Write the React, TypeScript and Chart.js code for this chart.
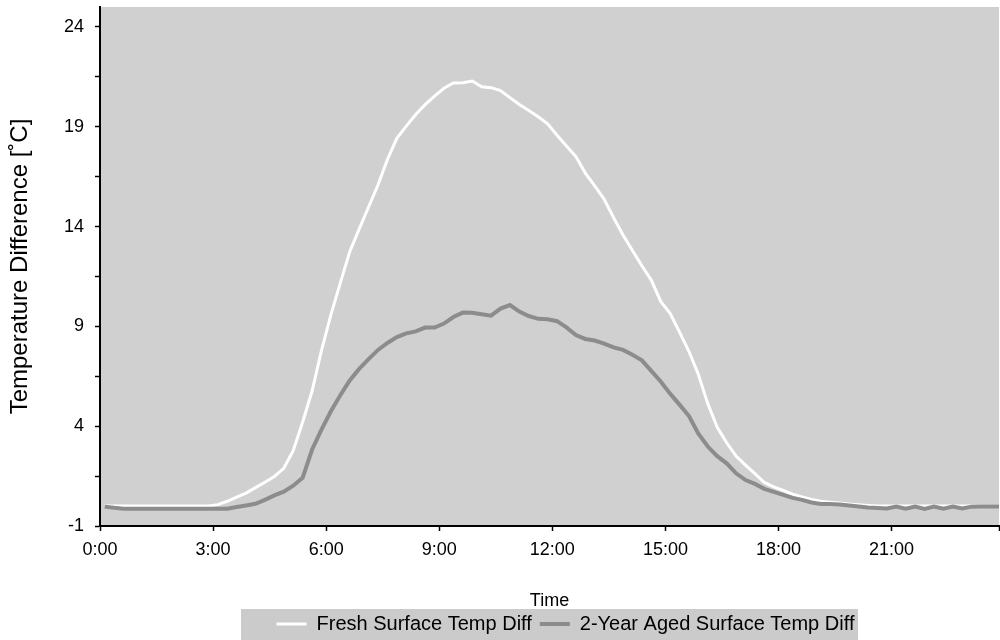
import { useEffect, useRef } from 'react';
import { Chart, registerables } from 'chart.js';

Chart.register(...registerables);

const seriesLabels = ['Fresh Surface Temp Diff', '2-Year Aged Surface Temp Diff'];

// Temperature difference samples (°C), one every 15 minutes, starting at 0:07:30
const freshDiff = [
  0, 0, 0, 0, 0, 0, 0, 0, 0, 0, 0, 0,
  0.07, 0.24, 0.45, 0.65, 0.92, 1.19, 1.48, 1.89, 2.77, 4.2,
  5.75, 7.79, 9.58, 11.18, 12.74, 13.87, 14.98, 16.08, 17.36, 18.42,
  19.03, 19.61, 20.11, 20.54, 20.93, 21.19, 21.21, 21.29, 21.0, 20.96,
  20.81, 20.46, 20.12, 19.82, 19.5, 19.15, 18.58, 18.04, 17.51, 16.68,
  16.04, 15.37, 14.45, 13.58, 12.8, 12.04, 11.32, 10.25, 9.65, 8.71,
  7.74, 6.59, 5.12, 3.94, 3.17, 2.5, 2.05, 1.62, 1.18, 0.96,
  0.78, 0.59, 0.46, 0.33, 0.24, 0.19, 0.15, 0.1, 0.07, 0.03,
  0, 0, 0, 0, 0, 0, 0, 0, 0, 0, 0, 0, 0, 0,
];

const agedDiff = [
  -0.03, -0.09, -0.13, -0.13, -0.13, -0.13, -0.13, -0.13, -0.13, -0.13, -0.13, -0.13, -0.13, -0.13,
  -0.05, 0.03, 0.11, 0.31, 0.53, 0.72, 1.02, 1.41,
  2.82, 3.83, 4.75, 5.55, 6.29, 6.87, 7.36, 7.82, 8.17, 8.46,
  8.65, 8.75, 8.94, 8.94, 9.14, 9.47, 9.69, 9.68, 9.61, 9.54,
  9.89, 10.07, 9.74, 9.52, 9.38, 9.36, 9.26, 8.95, 8.57, 8.37,
  8.29, 8.14, 7.95, 7.82, 7.58, 7.3, 6.77, 6.24, 5.63, 5.08,
  4.51, 3.62, 2.98, 2.5, 2.14, 1.64, 1.3, 1.11, 0.86, 0.71,
  0.56, 0.41, 0.31, 0.18, 0.1, 0.1, 0.08, 0.03, -0.02, -0.07,
  -0.1, -0.12, -0.02, -0.13, -0.03, -0.14, -0.03, -0.13, -0.03, -0.12,
  -0.03, -0.02, -0.02, -0.02,
];

const sampleStartH = 0.125;
const sampleStepH = 0.25;
const timesH = freshDiff.map((_, i) => sampleStartH + i * sampleStepH);

const xTickValues = [0, 3, 6, 9, 12, 15, 18, 21];
const xAxisEnd = 23.85;
const yTickValues = [-1, 1.5, 4, 6.5, 9, 11.5, 14, 16.5, 19, 21.5, 24];
const yLabelValues = [-1, 4, 9, 14, 19, 24];
const yMin = -1;
const yMax = 25;

const FONT = '"Liberation Sans", Arial, Helvetica, sans-serif';
const LEGEND_SHIFT_X = 16;

const backgroundPlugin = {
  id: 'plotBackground',
  afterLayout(chart: any) {
    const lg = chart.legend;
    if (lg) {
      lg.left += LEGEND_SHIFT_X;
      lg.right += LEGEND_SHIFT_X;
    }
  },
  beforeDraw(chart: any) {
    const { ctx, chartArea: a } = chart;
    ctx.save();
    ctx.fillStyle = '#d0d0d0';
    ctx.fillRect(a.left, a.top, a.right - a.left, a.bottom - a.top);
    const cx = (a.left + a.right) / 2;
    const w = 617;
    ctx.fillStyle = '#cbcbcb';
    ctx.fillRect(cx - w / 2, chart.height - 31, w, 31);
    ctx.restore();
  },
};

export default function App() {
  const canvasRef = useRef<HTMLCanvasElement | null>(null);

  useEffect(() => {
    const canvas = canvasRef.current;
    if (!canvas) return;
    const chart = new Chart(canvas, {
      type: 'line',
      data: {
        datasets: [
          {
            label: seriesLabels[0],
            data: timesH.map((t, i) => ({ x: t, y: freshDiff[i] })),
            borderColor: '#ffffff',
            backgroundColor: '#ffffff',
            borderWidth: 3,
            pointRadius: 0,
            tension: 0,
            order: 1,
          },
          {
            label: seriesLabels[1],
            data: timesH.map((t, i) => ({ x: t, y: agedDiff[i] })),
            borderColor: '#8c8c8c',
            backgroundColor: '#8c8c8c',
            borderWidth: 4,
            pointRadius: 0,
            tension: 0,
            order: 0,
          },
        ],
      },
      options: {
        animation: false,
        responsive: false,
        devicePixelRatio: 1,
        layout: { padding: { top: 7, right: 1, left: 0, bottom: -4 } },
        plugins: {
          tooltip: { enabled: false },
          legend: {
            position: 'bottom',
            fullSize: false,
            labels: {
              usePointStyle: true,
              pointStyle: 'line',
              pointStyleWidth: 30,
              color: '#000',
              font: { family: FONT, size: 20 },
              padding: 8,
              sort: (a: any, b: any) => a.datasetIndex - b.datasetIndex,
            },
          },
        },
        scales: {
          x: {
            type: 'linear',
            min: 0,
            max: xAxisEnd,
            afterBuildTicks: (s: any) => {
              s.ticks = [...xTickValues, xAxisEnd].map((v) => ({ value: v }));
            },
            afterFit: (s: any) => {
              s.height = 80;
              s.paddingLeft = 0;
              s.paddingRight = 0;
            },
            ticks: {
              autoSkip: false,
              maxRotation: 0,
              color: '#000',
              padding: 8,
              font: { family: FONT, size: 18 },
              callback: (v: any) => (xTickValues.includes(v) ? `${v}:00` : ''),
            },
            grid: {
              drawOnChartArea: false,
              drawTicks: true,
              tickLength: 5,
              tickColor: '#000',
              tickWidth: 1.5,
            },
            border: { display: true, color: '#000', width: 2 },
            title: {
              display: true,
              text: 'Time',
              color: '#000',
              font: { family: FONT, size: 18 },
              padding: { top: 0, bottom: -6 },
            },
          },
          y: {
            type: 'linear',
            min: yMin,
            max: yMax,
            afterBuildTicks: (s: any) => {
              s.ticks = yTickValues.map((v) => ({ value: v }));
            },
            afterFit: (s: any) => {
              s.width = 100;
              s.paddingTop = 0;
              s.paddingBottom = 0;
            },
            ticks: {
              autoSkip: false,
              color: '#000',
              padding: 11,
              font: { family: FONT, size: 18 },
              callback: (v: any) => (yLabelValues.includes(v) ? String(v) : ''),
            },
            grid: {
              drawOnChartArea: false,
              drawTicks: true,
              tickLength: 5,
              tickColor: '#000',
              tickWidth: 1.5,
            },
            border: { display: true, color: '#000', width: 2 },
            title: {
              display: true,
              text: 'Temperature Difference [˚C]',
              color: '#000',
              font: { family: FONT, size: 24 },
              padding: { top: 6, bottom: 0 },
            },
          },
        },
      },
      plugins: [backgroundPlugin],
    });
    return () => chart.destroy();
  }, []);

  return (
    <div style={{ position: 'fixed', left: 0, top: 0, width: 1000, height: 640, background: '#fff' }}>
      <canvas ref={canvasRef} width={1000} height={640} />
    </div>
  );
}
